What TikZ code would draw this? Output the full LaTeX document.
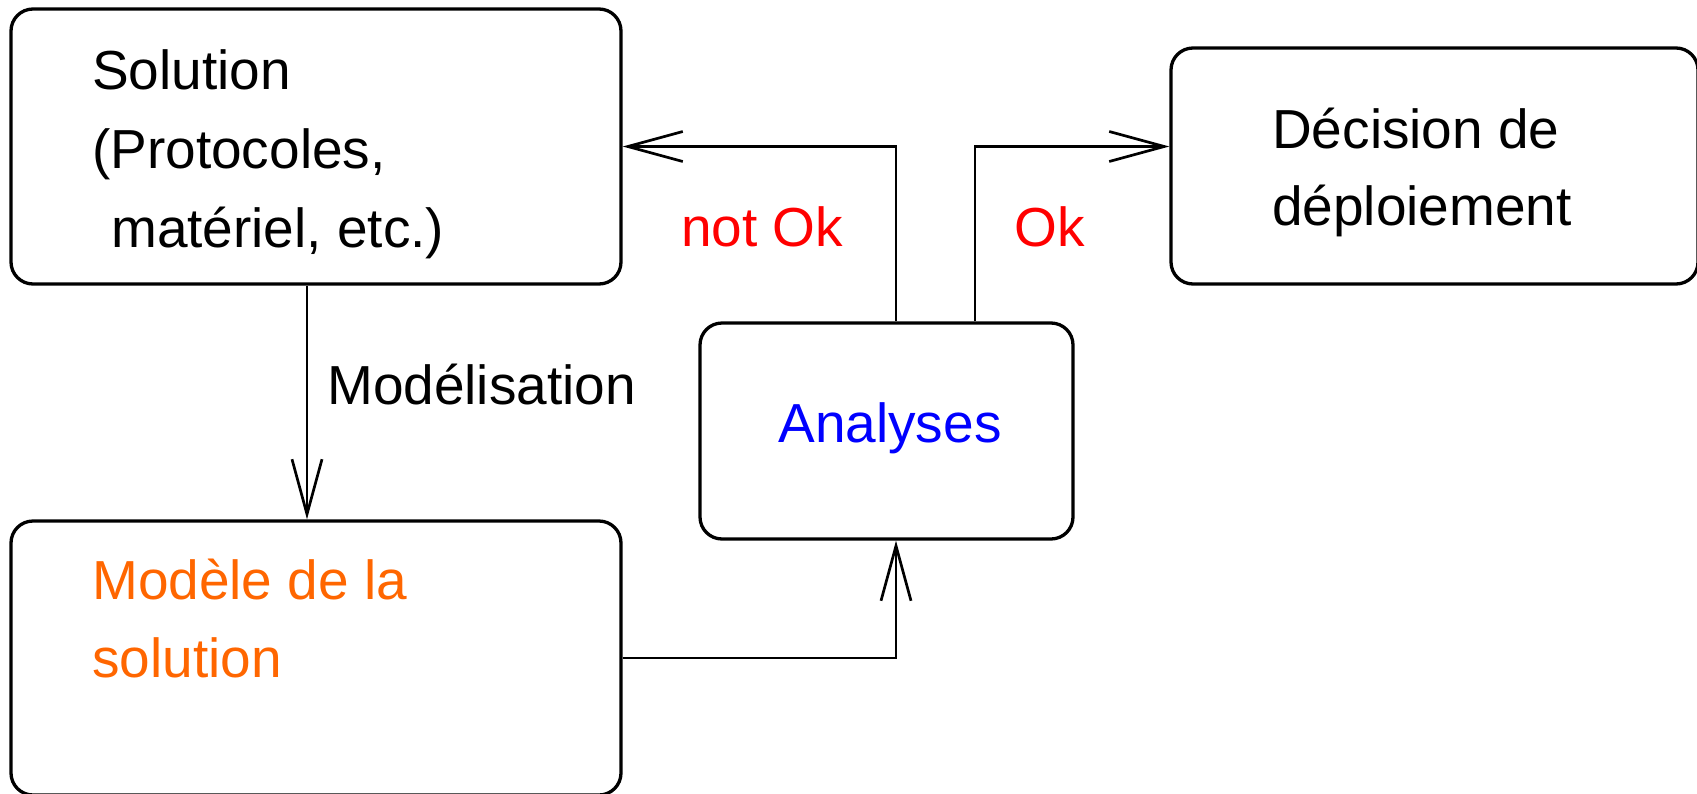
\documentclass[tikz,border=0pt]{standalone}
\usepackage{fontspec}
\setmainfont{Liberation Sans}
\usetikzlibrary{arrows.meta}
\definecolor{modelorange}{RGB}{255,102,0}
\begin{document}
\begin{tikzpicture}[x=1pt,y=-1pt,
  box/.style={draw,line width=3.3pt,rounded corners=22pt,inner sep=0pt},
  arr/.style={line width=2.7pt,-{Straight Barb[length=55pt,width=30pt,line width=2.7pt]}},
  txt/.style={anchor=base west,inner sep=0pt,font=\fontsize{55}{66}\selectfont},
  ctxt/.style={txt,anchor=base}]
\useasboundingbox (0,0) rectangle (1697,793);

% boxes
\node[box,minimum width=610pt,minimum height=275pt] (sol) at (316,146.5) {};
\node[box,minimum width=610pt,minimum height=274pt] (model) at (316,658) {};
\node[box,minimum width=373pt,minimum height=216pt] (ana) at (886.5,431) {};
\node[box,minimum width=527pt,minimum height=236pt] (dec) at (1434.5,166) {};

% box texts
\node[txt] (sol1) at (92,89) {Solution};
\node[txt] (sol2) at (92,168) {(Protocoles,};
\node[txt] (sol3) at (111,247) {matériel, etc.)};
\node[txt,text=modelorange] (mod1) at (92,599) {Modèle de la};
\node[txt,text=modelorange] (mod2) at (92,677) {solution};
\node[ctxt,text=blue] (anatxt) at (890,442) {Analyses};
\node[txt] (dec1) at (1272,148) {Décision de};
\node[txt] (dec2) at (1272,225) {déploiement};

% connector labels
\node[txt] (lmod) at (327,404) {Modélisation};
\node[txt,text=red] (lnok) at (681,246) {not Ok};
\node[txt,text=red] (lok) at (1014,246) {Ok};

% routing points
\coordinate (mx) at (307,0);
\coordinate (ax) at (896,0);
\coordinate (nok) at (896,146.5);
\coordinate (okc) at (975,146.5);

% connectors
\draw[arr] (sol.south -| mx) -- (model.north -| mx);
\draw[arr] (model.east) -| (ana.south -| ax);
\draw[arr] (ana.north -| nok) -- (nok) -- (sol.east);
\draw[arr] (ana.north -| okc) -- (okc) -- (dec.west |- okc);
\end{tikzpicture}
\end{document}
